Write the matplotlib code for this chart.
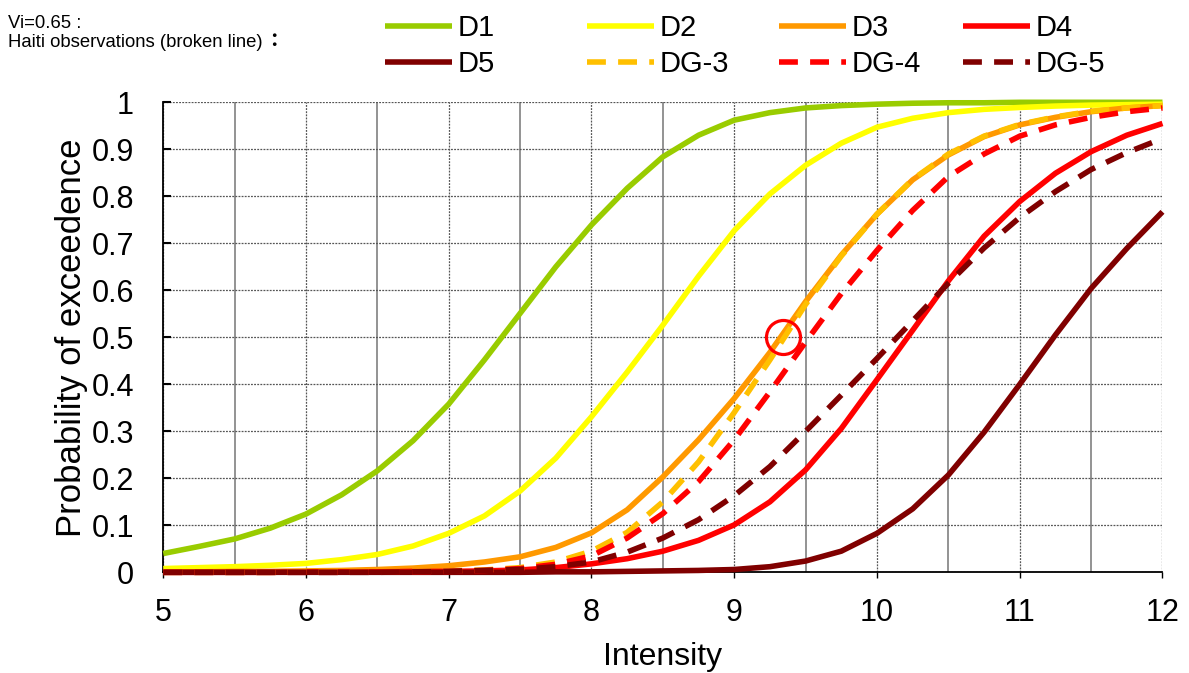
import numpy as np
import matplotlib
matplotlib.use("Agg")
import matplotlib.pyplot as plt

plt.rcParams['font.family'] = ['Liberation Sans', 'Noto Sans CJK JP', 'DejaVu Sans']

# values, every 0.25 of intensity
intensity = np.arange(5.0, 12.25, 0.25)

d1 = [0.040, 0.055, 0.071, 0.094, 0.124, 0.165, 0.216, 0.280, 0.358, 0.452,
      0.551, 0.650, 0.739, 0.817, 0.884, 0.930, 0.962, 0.978, 0.988, 0.993,
      0.996, 0.998, 0.999, 0.999, 1.000, 1.000, 1.000, 1.000, 1.000]
d2 = [0.008, 0.010, 0.012, 0.015, 0.019, 0.027, 0.038, 0.056, 0.083, 0.120,
      0.173, 0.243, 0.331, 0.426, 0.526, 0.630, 0.727, 0.805, 0.866, 0.913,
      0.947, 0.966, 0.978, 0.985, 0.989, 0.992, 0.994, 0.995, 0.996]
d3 = [0.001, 0.001, 0.002, 0.002, 0.003, 0.004, 0.006, 0.009, 0.014, 0.022,
      0.033, 0.053, 0.084, 0.133, 0.203, 0.282, 0.370, 0.468, 0.576, 0.675,
      0.762, 0.835, 0.888, 0.927, 0.952, 0.968, 0.980, 0.988, 0.993]
d4 = [0.000, 0.000, 0.000, 0.000, 0.001, 0.001, 0.001, 0.002, 0.002, 0.003,
      0.005, 0.010, 0.018, 0.029, 0.045, 0.068, 0.101, 0.150, 0.218, 0.306,
      0.410, 0.515, 0.620, 0.715, 0.789, 0.849, 0.895, 0.930, 0.955]
d5 = [0.000, 0.000, 0.000, 0.000, 0.000, 0.000, 0.000, 0.000, 0.000, 0.000,
      0.000, 0.001, 0.001, 0.002, 0.003, 0.004, 0.006, 0.012, 0.024, 0.045,
      0.083, 0.135, 0.207, 0.298, 0.400, 0.505, 0.604, 0.689, 0.767]

# Haiti observations (dashed)
dg3 = [0.000, 0.000, 0.000, 0.000, 0.001, 0.001, 0.001, 0.002, 0.003, 0.005,
       0.010, 0.022, 0.045, 0.085, 0.150, 0.235, 0.340, 0.452, 0.570, 0.673,
       0.762, 0.836, 0.890, 0.928, 0.953, 0.969, 0.981, 0.988, 0.993]
dg4 = [0.000, 0.000, 0.000, 0.000, 0.000, 0.000, 0.001, 0.001, 0.002, 0.004,
       0.008, 0.017, 0.035, 0.073, 0.125, 0.193, 0.282, 0.384, 0.490, 0.593,
       0.685, 0.770, 0.842, 0.890, 0.928, 0.952, 0.968, 0.980, 0.988]
dg5 = [0.000, 0.000, 0.000, 0.000, 0.000, 0.000, 0.000, 0.001, 0.002, 0.004,
       0.006, 0.012, 0.022, 0.043, 0.073, 0.112, 0.163, 0.225, 0.300, 0.377,
       0.455, 0.535, 0.615, 0.690, 0.755, 0.810, 0.857, 0.893, 0.923]

# highlighted point (D3 at 50%)
mark_x = [9.34]
mark_y = [0.5]

fig = plt.figure(figsize=(11.89, 6.73), dpi=100)
ax = fig.add_axes([0.1373, 0.1496, 0.8404, 0.6984])

lw = 4.0
dash = (3.4, 2.2)
solid = [("D1", d1, "#99CC00"), ("D2", d2, "#FFFF00"), ("D3", d3, "#FF9900"),
         ("D4", d4, "#FF0000"), ("D5", d5, "#800000")]
broken = [("DG-3", dg3, "#FFC000"), ("DG-4", dg4, "#FF0000"), ("DG-5", dg5, "#800000")]

handles = {}
for name, vals, col in solid:
    ln, = ax.plot(intensity, vals, color=col, lw=lw, solid_capstyle='butt',
                  solid_joinstyle='round', clip_on=False, zorder=3)
    handles[name] = ln
for name, vals, col in broken:
    ln, = ax.plot(intensity, vals, color=col, lw=lw, dashes=dash,
                  clip_on=False, zorder=3)
    handles[name] = ln

ax.plot(mark_x, mark_y, 'o', ms=24.5, mfc='none', mec='#FF0000', mew=2.3, zorder=4)

ax.set_xlim(5, 12)
ax.set_ylim(0, 1)
ax.set_xticks(np.arange(5, 13, 1))
ax.set_xticks(np.arange(5.5, 12, 1), minor=True)
ax.set_yticks(np.arange(0, 1.01, 0.1))
ax.set_yticklabels(["0", "0.1", "0.2", "0.3", "0.4", "0.5", "0.6", "0.7", "0.8", "0.9", "1"])

ax.grid(True, which='major', color='#555555', lw=0.9, linestyle=(0, (1.5, 1.0)))
ax.grid(True, which='minor', axis='x', color='#808080', lw=1.2, linestyle='-')
ax.set_axisbelow(True)

ax.spines['top'].set_visible(False)
ax.spines['right'].set_visible(False)
ax.spines['left'].set_linewidth(1.3)
ax.spines['bottom'].set_linewidth(1.3)

ax.tick_params(axis='y', direction='in', length=6, width=1.5, pad=21, labelsize=22)
ax.tick_params(axis='x', direction='out', length=4.5, width=1, pad=14, labelsize=22)
ax.tick_params(which='minor', length=0)

ax.set_xlabel("Intensity", fontsize=23)
ax.set_ylabel("Probability of exceedence", fontsize=25)
ax.xaxis.set_label_coords(0.5, -0.148)
ax.yaxis.set_label_coords(-0.075, 0.5)

# header notes
fig.text(0.007, 0.958, "Vi=0.65 :", fontsize=13.3, va='baseline')
fig.text(0.007, 0.930, "Haiti observations (broken line)", fontsize=13.3, va='baseline')
fig.text(0.222, 0.930, "：", fontsize=14, va='baseline', fontweight='bold')

# legend: one small legend per column
columns = [("D1", "D5"), ("D2", "DG-3"), ("D3", "DG-4"), ("D4", "DG-5")]
col_x = [385, 587, 779, 963]
for (a, b), px in zip(columns, col_x):
    fig.legend([handles[a], handles[b]], [a, b], loc='upper left',
               bbox_to_anchor=(px / 1189, 1 - 14 / 673), frameon=False,
               fontsize=21, handlelength=2.3, handletextpad=0.2,
               borderpad=0, borderaxespad=0, labelspacing=0.27)

fig.savefig("out.png", dpi=100)
